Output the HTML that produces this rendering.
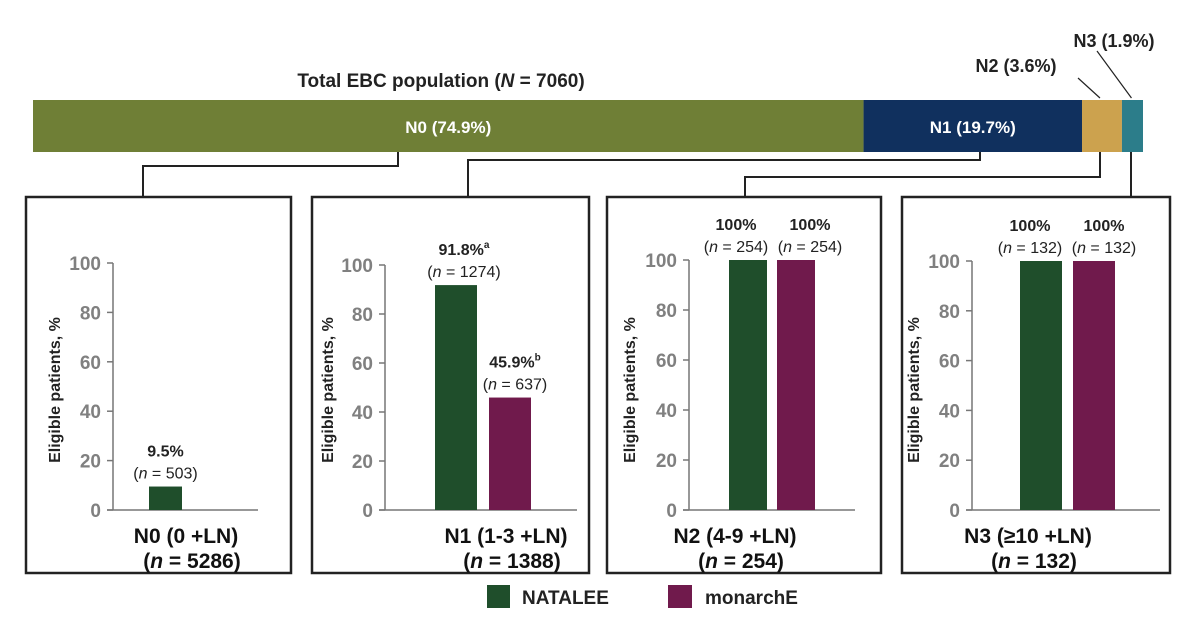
<!DOCTYPE html>
<html><head><meta charset="utf-8"><style>
body{margin:0;background:#fff;}
svg{display:block;font-family:"Liberation Sans",Arial,sans-serif;}
</style></head><body>
<svg id="c" width="1200" height="628" viewBox="0 0 1200 628">
<text x="441" y="87" text-anchor="middle" font-size="19" font-weight="bold" fill="#222">Total EBC population (<tspan font-style="italic">N</tspan> = 7060)</text>
<g id="topbar"></g>
<g id="panels"></g>
<g>
<rect x="487" y="585" width="23" height="23" fill="#1f4e2b"/>
<text x="522" y="604" font-size="19" font-weight="bold" fill="#222">NATALEE</text>
<rect x="668" y="585" width="24" height="23" fill="#701a4c"/>
<text x="705" y="604" font-size="19" font-weight="bold" fill="#222">monarchE</text>
</g>
</svg>
<script>
const segNames=["N0","N1","N2","N3"];
const segPct=[74.9,19.7,3.6,1.9];
const segColors=["#6f7f36","#10305e","#cca24e","#2c7d8a"];
const catLabels=["N0 (0 +LN)","N1 (1-3 +LN)","N2 (4-9 +LN)","N3 (≥10 +LN)"];
const catN=[5286,1388,254,132];
const natalee=[9.5,91.8,100,100];
const nataleeN=[503,1274,254,132];
const natSup=["","a","",""];
const monarch=[null,45.9,100,100];
const monarchN=[null,637,254,132];
const monSup=["","b","",""];
const yTicks=[0,20,40,60,80,100];

const NS="http://www.w3.org/2000/svg";
function mk(tag,attrs,parent){const e=document.createElementNS(NS,tag);for(const k in attrs)e.setAttribute(k,attrs[k]);parent.appendChild(e);return e;}
const tb=document.getElementById('topbar');
const panels=document.getElementById('panels');

const bx0=33,bx1=1143,by=100,bh=52;
const total=segPct.reduce((a,b)=>a+b,0);
const bxs=v=>bx0+(bx1-bx0)*v/total;
let acc=0;
segPct.forEach((p,i)=>{
  const x=bxs(acc),w=bxs(acc+p)-x;acc+=p;
  const r=mk('rect',{x:x,y:by,width:w,height:bh,fill:segColors[i]},tb);
  
  
  const lbl=segNames[i]+" ("+p.toFixed(1)+"%)";
  if(i<2){
    const t=mk('text',{x:x+w/2,y:by+33,'text-anchor':'middle','font-size':17,'font-weight':'bold',fill:'#fff'},tb);
    t.textContent=lbl;
    
    
  } else {
    const lx=i==2?1016:1114, ly=i==2?72:47;
    const t=mk('text',{x:lx,y:ly,'text-anchor':'middle','font-size':18,'font-weight':'bold',fill:'#222'},tb);
    t.textContent=lbl;
    
    
    const l=mk('line',{x1:i==2?1078:1097,y1:i==2?78:51,x2:x+w/2-(i==2?2:1),y2:98,stroke:'#222','stroke-width':1.2},tb);
    
    
  }
});

const boxes=[[26,291],[312,589],[607,881],[902,1170]];
const axX=[113,385,689,972];
const axEnd=[258,577,855,1160];
const y100=[263,265,260,261];
const yBase=510;
const barW=[33,42,38,42];
const barL1=[149,435,729,1020];
const barL2=[null,489,777,1073];
const lblDx1=[0,8,-12,-11];
const lblDx2=[0,5,14,10];
const titleX=[60,333,635,919];
const catCx=[186,506,735,1028];
const connY=[166,160,177,null];
const connSrcX=[398,980,1100,1131];
const connDstX=[143,468,745,1131];

boxes.forEach((b,i)=>{
  const g=mk('g',{},panels);
  
  
  let d;
  if(connY[i]) d=`M${connSrcX[i]} 152 V${connY[i]} H${connDstX[i]} V198`;
  else d=`M${connSrcX[i]} 152 V198`;
  const p=mk('path',{d:d,fill:'none',stroke:'#222','stroke-width':2},g);
  
  
  const r=mk('rect',{x:b[0],y:197,width:b[1]-b[0],height:376,fill:'none',stroke:'#222','stroke-width':2.5},g);
  
  
  const top=y100[i];
  const ys=v=>yBase-(yBase-top)*v/100;
  const ax=mk('line',{x1:axX[i],y1:top,x2:axX[i],y2:yBase,stroke:'#777','stroke-width':1.5},g);
  
  
  const base=mk('line',{x1:axX[i]-6,y1:yBase,x2:axEnd[i],y2:yBase,stroke:'#777','stroke-width':1.5},g);
  
  
  yTicks.forEach(v=>{
    const tk=mk('line',{x1:axX[i]-6,y1:ys(v),x2:axX[i],y2:ys(v),stroke:'#777','stroke-width':1.5},g);
    
    
    const t=mk('text',{x:axX[i]-12,y:ys(v)+7,'text-anchor':'end','font-size':19,'font-weight':'bold',fill:'#808080'},g);
    t.textContent=v;
    
    
  });
  const yt=mk('text',{x:titleX[i],y:390,'text-anchor':'middle','font-size':16,'font-weight':'bold',fill:'#222',transform:`rotate(-90 ${titleX[i]} 390)`},g);
  yt.textContent="Eligible patients, %";
  
  
  function bar(x,v,n,sup,col,name,dx){
    const rr=mk('rect',{x:x,y:ys(v),width:barW[i],height:yBase-ys(v),fill:col},g);
    
    
    const cx=x+barW[i]/2+dx;
    const t1=mk('text',{x:cx,y:ys(v)-30,'text-anchor':'middle','font-size':16,'font-weight':'bold',fill:'#222'},g);
    t1.innerHTML=(v%1===0?v:v.toFixed(1))+"%"+(sup?`<tspan font-size="10" dy="-7">${sup}</tspan>`:"");
    
    
    const t2=mk('text',{x:cx,y:ys(v)-8,'text-anchor':'middle','font-size':16,fill:'#222'},g);
    t2.innerHTML=`(<tspan font-style="italic">n</tspan> = ${n})`;
    
    
  }
  bar(barL1[i],natalee[i],nataleeN[i],natSup[i],'#1f4e2b','bar-natalee-'+segNames[i].toLowerCase(),lblDx1[i]);
  if(monarch[i]!=null) bar(barL2[i],monarch[i],monarchN[i],monSup[i],'#701a4c','bar-monarche-'+segNames[i].toLowerCase(),lblDx2[i]);
  const c1=mk('text',{x:catCx[i],y:543,'text-anchor':'middle','font-size':21,'font-weight':'bold',fill:'#111'},g);
  c1.textContent=catLabels[i];
  
  
  const c2=mk('text',{x:catCx[i]+6,y:568,'text-anchor':'middle','font-size':21,'font-weight':'bold',fill:'#111'},g);
  c2.innerHTML=`(<tspan font-style="italic">n</tspan> = ${catN[i]})`;
  
  
});
</script>
</body></html>
